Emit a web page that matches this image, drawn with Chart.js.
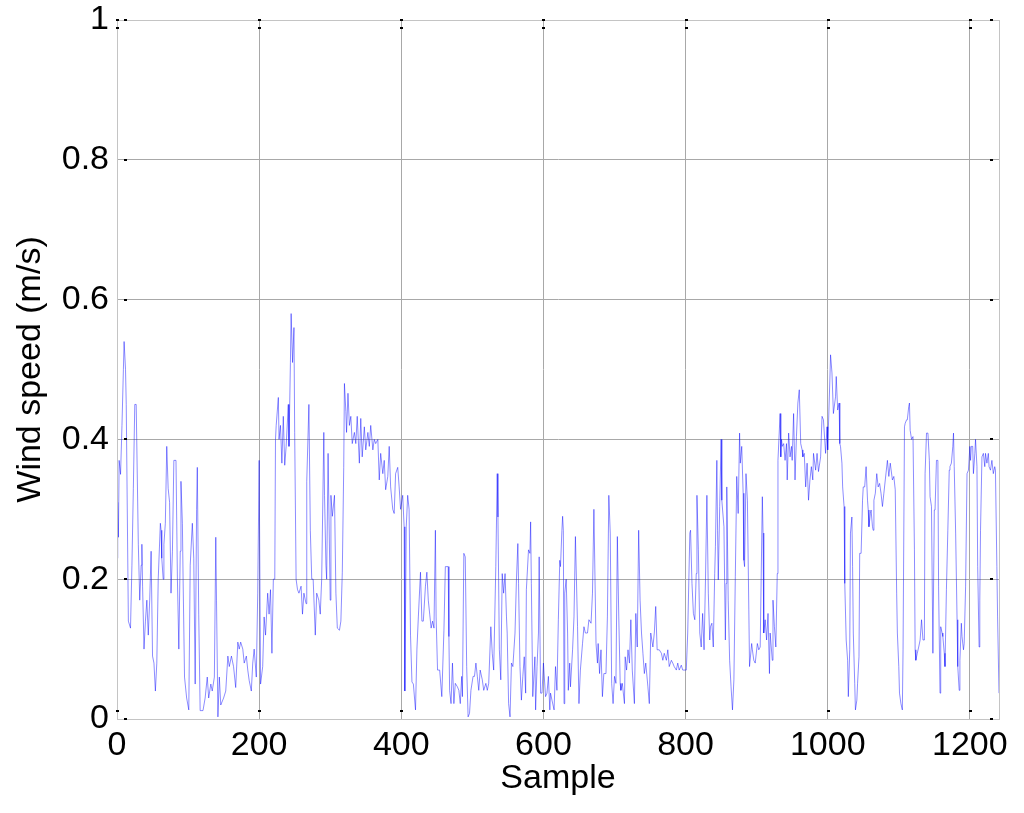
<!DOCTYPE html>
<html>
<head>
<meta charset="utf-8">
<title>Wind speed</title>
<script src="https://cdn.jsdelivr.net/npm/chart.js@4.4.1/dist/chart.umd.min.js"></script>
<style>
  html, body { margin: 0; padding: 0; background: #fff; }
  canvas { display: block; }
</style>
</head>
<body>
<canvas id="windChart" width="1024" height="813"></canvas>
<script>
// sample index of each traced vertex
const sampleIdx = [
  0, 1, 2, 3, 5, 7, 9, 10, 12, 13, 16, 19, 21, 23, 25, 27, 30, 32, 34, 35, 36, 38, 40, 42, 44, 46, 48, 50, 52, 54, 56, 58,
  61, 62, 63, 65, 66, 68, 70, 72, 74, 76, 78, 80, 83, 85, 87, 89, 90, 92, 93, 95, 98, 101, 103, 106, 108, 110, 112, 113, 115, 117,
  121, 124, 127, 129, 132, 134, 137, 139, 140, 142, 144, 146, 150, 153, 156, 158, 161, 164, 167, 170, 172, 174, 177, 179, 182, 184,
  186, 189, 191, 193, 196, 198, 200,
  202, 205, 207, 209, 212, 214, 216, 218, 220, 222, 223, 224, 227, 228, 230, 232, 234, 236, 238, 241, 242, 244, 245, 247, 249, 250,
  252, 254, 256, 259, 261, 263, 266, 267, 270, 272, 274, 276, 279, 281, 284, 286, 288, 291, 292, 294, 295, 297, 300, 301, 303, 306,
  308, 310, 313, 315, 317, 319, 320, 322, 323, 325, 327, 329, 331, 334, 336, 338, 341, 343, 345, 348, 350, 353, 355, 357, 360, 362,
  364, 367, 369, 371, 374, 376, 378, 381, 383, 385, 388, 390, 392, 395, 397, 399, 402, 404,
  405, 407, 409, 411, 413, 415, 417, 420, 422, 424, 427, 429, 431, 434, 436, 438, 440, 442, 444, 446, 448, 449, 451, 454, 457, 460,
  462, 466, 467, 468, 470, 472, 474, 476, 479, 481, 483, 485, 486, 488, 490, 492, 494, 496, 498, 501, 503, 505, 507, 509, 511, 514,
  516, 519, 521, 523, 526, 528, 530, 533, 535, 536, 538, 540, 542, 544, 546, 548, 549, 551, 553, 555, 557, 560, 562, 564, 565, 567,
  569, 571, 573, 575, 576, 579, 581, 582, 583, 585, 588, 589, 591, 593, 594, 596, 598, 600,
  603, 605, 607, 609, 610, 612, 615, 617, 619, 621, 623, 624, 626, 627, 628, 629, 630, 632, 634, 635, 637, 638, 641, 643, 645, 648,
  650, 652, 655, 657, 659, 662, 664, 667, 669, 671, 674, 676, 677, 679, 681, 683, 685, 688, 690, 692, 694, 696, 698, 700, 702, 704,
  706, 708, 709, 711, 714, 715, 717, 719, 721, 723, 725, 728, 730, 732, 734, 736, 738, 740, 742, 744, 747, 749, 751, 754, 756, 758,
  760, 763, 766, 768, 770, 773, 775, 777, 780, 782, 784, 787, 789, 791, 794, 796, 799, 801, 803, 806, 807,
  809, 811, 813, 815, 816, 818, 820, 822, 824, 826, 828, 830, 832, 834, 835, 837, 839, 841, 842, 844, 845, 846, 848, 850, 851, 854,
  856, 857, 858, 860, 862, 864, 866, 868, 870, 872, 874, 876, 877, 879, 881, 882, 883, 885, 887, 889, 890, 893, 894, 896, 898, 901,
  903, 905, 908, 909, 910, 912, 914, 916, 918, 919, 922, 923, 925, 927, 929, 930, 933, 934, 935, 936, 938, 940, 942, 943, 945, 947,
  949, 950, 952, 954, 956, 958, 960, 962, 964, 965, 967, 969, 971, 973, 975, 977, 979, 980, 983, 985, 987, 990, 992, 994, 997, 999,
  1000, 1003, 1004, 1006, 1008, 1011, 1012, 1014, 1016, 1017,
  1018, 1020, 1021, 1023, 1024, 1026, 1028, 1029, 1031, 1032, 1034, 1035, 1036, 1038, 1039, 1041, 1042, 1044, 1045, 1047, 1049, 1050,
  1052, 1054, 1056, 1057, 1058, 1060, 1061, 1063, 1064, 1065, 1067, 1069, 1071, 1073, 1075, 1077, 1079, 1081, 1084, 1086, 1088, 1091,
  1093, 1095, 1097, 1098, 1100, 1101, 1103, 1105, 1106, 1108, 1109, 1111, 1112, 1114, 1115, 1116, 1118, 1120, 1122, 1123, 1124, 1126,
  1128, 1130, 1132, 1134, 1136, 1137, 1139, 1141, 1143, 1144, 1146, 1148, 1150, 1151, 1153, 1155, 1156, 1158, 1159, 1161, 1162, 1164,
  1165, 1167, 1169, 1171, 1172, 1174, 1176, 1177, 1178, 1180, 1182, 1183, 1185, 1186, 1188, 1189, 1191, 1192, 1194, 1196, 1198, 1200,
  1201, 1202, 1204, 1205, 1207, 1208, 1210, 1211, 1213, 1214, 1215, 1217, 1219, 1221, 1222, 1224, 1226, 1227, 1229, 1231, 1233, 1235,
  1236, 1238, 1239, 1241
];

// wind speed (m/s) at each of those samples
const windSpeed = [
  0.23, 0.31, 0.26, 0.37, 0.35, 0.42, 0.50, 0.54, 0.50, 0.45, 0.14, 0.13, 0.22, 0.33, 0.45, 0.45, 0.25, 0.17, 0.22, 0.25, 0.19, 0.10, 0.14, 0.17, 0.12, 0.17, 0.24, 0.09, 0.08, 0.04, 0.08, 0.20,
  0.28, 0.27, 0.23, 0.20, 0.25, 0.28, 0.39, 0.33, 0.31, 0.18, 0.24, 0.37, 0.37, 0.20, 0.10, 0.24, 0.34, 0.28, 0.20, 0.06, 0.03, 0.013, 0.22, 0.28, 0.23, 0.05, 0.30, 0.36, 0.15, 0.012,
  0.012, 0.03, 0.06, 0.03, 0.05, 0.04, 0.06, 0.26, 0.17, 0.003, 0.06, 0.02, 0.03, 0.04, 0.09, 0.075, 0.09, 0.075, 0.045, 0.11, 0.10, 0.11, 0.10, 0.08, 0.09, 0.07,
  0.055, 0.04, 0.08, 0.10, 0.06, 0.18, 0.37,
  0.05, 0.075, 0.146, 0.12, 0.18, 0.15, 0.185, 0.094, 0.20, 0.20, 0.40, 0.42, 0.46, 0.40, 0.42, 0.366, 0.433, 0.363, 0.39, 0.45, 0.39, 0.51, 0.58, 0.51, 0.56, 0.41,
  0.20, 0.185, 0.18, 0.19, 0.15, 0.18, 0.165, 0.34, 0.45, 0.27, 0.20, 0.20, 0.12, 0.18, 0.17, 0.15, 0.20, 0.41, 0.32, 0.22, 0.20, 0.38, 0.17, 0.32, 0.29, 0.32,
  0.18, 0.13, 0.127, 0.14, 0.21, 0.36, 0.48, 0.44, 0.41, 0.466, 0.42, 0.433, 0.394, 0.41, 0.394, 0.433, 0.366, 0.43, 0.375, 0.418, 0.385, 0.41, 0.39, 0.42, 0.385, 0.40,
  0.394, 0.40, 0.342, 0.38, 0.351, 0.37, 0.328, 0.347, 0.39, 0.332, 0.30, 0.294, 0.351, 0.36, 0.332, 0.30, 0.32, 0.275,
  0.04, 0.275, 0.32, 0.30, 0.12, 0.053, 0.05, 0.013, 0.10, 0.146, 0.21, 0.14, 0.14, 0.19, 0.21, 0.17, 0.15, 0.13, 0.14, 0.13, 0.27, 0.146, 0.07, 0.07, 0.032, 0.127,
  0.218, 0.218, 0.118, 0.041, 0.022, 0.08, 0.022, 0.051, 0.046, 0.041, 0.022, 0.061, 0.032, 0.237, 0.232, 0.075, 0.003, 0.008, 0.041, 0.061, 0.061, 0.08, 0.061, 0.041, 0.07, 0.056,
  0.041, 0.051, 0.041, 0.051, 0.132, 0.094, 0.07, 0.218, 0.351, 0.289, 0.099, 0.056, 0.208, 0.18, 0.208, 0.146, 0.123, 0.022, 0.003, 0.08, 0.075, 0.123, 0.199, 0.251, 0.194, 0.075,
  0.027, 0.061, 0.089, 0.037, 0.185, 0.242, 0.237, 0.282, 0.194, 0.032, 0.089, 0.013, 0.075, 0.123, 0.232, 0.037, 0.037, 0.08,
  0.032, 0.037, 0.061, 0.013, 0.037, 0.027, 0.013, 0.075, 0.041, 0.142, 0.227, 0.218, 0.27, 0.29, 0.27, 0.022, 0.18, 0.20, 0.123, 0.041, 0.08, 0.046, 0.099, 0.146, 0.261, 0.132,
  0.022, 0.07, 0.108, 0.132, 0.123, 0.123, 0.142, 0.137, 0.18, 0.30, 0.108, 0.08, 0.108, 0.065, 0.099, 0.032, 0.065, 0.065, 0.146, 0.32, 0.266, 0.051, 0.022, 0.061, 0.051, 0.261,
  0.146, 0.051, 0.041, 0.051, 0.022, 0.089, 0.07, 0.099, 0.08, 0.142, 0.07, 0.022, 0.151, 0.103, 0.27, 0.17, 0.123, 0.094, 0.065, 0.08, 0.046, 0.022, 0.123, 0.103, 0.123, 0.161,
  0.099, 0.099, 0.094, 0.084, 0.094, 0.084, 0.099, 0.075, 0.084, 0.08, 0.075, 0.07, 0.08, 0.07, 0.077, 0.07, 0.07, 0.07, 0.123, 0.266, 0.27,
  0.194, 0.151, 0.142, 0.208, 0.32, 0.242, 0.123, 0.103, 0.151, 0.099, 0.199, 0.32, 0.18, 0.113, 0.132, 0.137, 0.103, 0.208, 0.247, 0.37, 0.27, 0.199, 0.304, 0.40, 0.313, 0.275,
  0.113, 0.194, 0.332, 0.17, 0.084, 0.046, 0.013, 0.056, 0.204, 0.347, 0.294, 0.409, 0.366, 0.39, 0.323, 0.227, 0.218, 0.351, 0.313, 0.156, 0.075, 0.108, 0.099, 0.084, 0.08, 0.108,
  0.099, 0.103, 0.318, 0.266, 0.123, 0.142, 0.113, 0.151, 0.065, 0.123, 0.084, 0.17, 0.132, 0.103, 0.208, 0.37, 0.437, 0.375, 0.40, 0.39, 0.394, 0.37, 0.394, 0.342, 0.409, 0.375,
  0.39, 0.37, 0.437, 0.342, 0.404, 0.452, 0.471, 0.394, 0.385, 0.375, 0.38, 0.332, 0.366, 0.313, 0.342, 0.361, 0.342, 0.38, 0.356, 0.38, 0.354, 0.375, 0.433, 0.428, 0.38, 0.418,
  0.385, 0.485, 0.521, 0.495, 0.437, 0.461, 0.49, 0.442, 0.452, 0.394,
  0.39, 0.366, 0.332, 0.304, 0.194, 0.113, 0.084, 0.032, 0.099, 0.266, 0.289, 0.218, 0.123, 0.051, 0.013, 0.027, 0.051, 0.089, 0.237, 0.237, 0.313, 0.332,
  0.332, 0.361, 0.313, 0.299, 0.275, 0.294, 0.299, 0.275, 0.27, 0.313, 0.323, 0.351, 0.332, 0.337, 0.323, 0.304, 0.323, 0.342, 0.37, 0.347, 0.366, 0.342,
  0.347, 0.328, 0.18, 0.123, 0.075, 0.037, 0.022, 0.013, 0.099, 0.418, 0.423, 0.428, 0.428, 0.447, 0.452, 0.413, 0.40, 0.404, 0.242, 0.099, 0.084, 0.094,
  0.103, 0.113, 0.142, 0.113, 0.113, 0.351, 0.409, 0.409, 0.37, 0.318, 0.304, 0.094, 0.299, 0.299, 0.37, 0.37, 0.189, 0.037, 0.132, 0.123, 0.118, 0.094,
  0.075, 0.185, 0.27, 0.356, 0.361, 0.366, 0.39, 0.409, 0.361, 0.266, 0.142, 0.075, 0.041, 0.084, 0.137, 0.118, 0.099, 0.108, 0.189, 0.351, 0.356, 0.39,
  0.37, 0.39, 0.39, 0.351, 0.38, 0.40, 0.361, 0.218, 0.103, 0.17, 0.27, 0.375, 0.38, 0.361, 0.38, 0.366, 0.38, 0.361, 0.356, 0.37, 0.351, 0.361,
  0.356, 0.218, 0.146, 0.037
];

const xTicks = [0, 200, 400, 600, 800, 1000, 1200];
const yTicks = [0, 0.2, 0.4, 0.6, 0.8, 1];
const xMax = 1241;

const points = sampleIdx.map((s, i) => ({ x: s, y: windSpeed[i] }));

/* ===== MATLAB style box and tick dots ===== */
const boxPlugin = {
  id: "matlabBox",
  afterDraw(chart) {
    const { ctx, chartArea: a, scales } = chart;
    ctx.save();
    ctx.strokeStyle = "#c4c4c4";
    ctx.lineWidth = 1;
    ctx.strokeRect(Math.round(a.left) + 0.5, Math.round(a.top) + 0.5,
      Math.round(a.right - a.left), Math.round(a.bottom - a.top));
    ctx.fillStyle = "#000";
    xTicks.forEach(v => {
      const px = Math.round(scales.x.getPixelForValue(v));
      ctx.fillRect(px - 1, a.bottom - 9, 3, 2);
      ctx.fillRect(px - 1, a.top - 1, 3, 2);
      ctx.fillRect(px - 1, a.top + 7, 3, 2);
    });
    yTicks.forEach(v => {
      const py = Math.round(scales.y.getPixelForValue(v));
      ctx.fillRect(a.left + 7, py - 1, 3, 2);
      ctx.fillRect(a.right - 9, py - 1, 3, 2);
    });
    ctx.restore();
  }
};

const font = { family: "'Liberation Sans', Arial, sans-serif", size: 34 };
const plainLabel = v => String(Math.round(v * 10) / 10);

new Chart(document.getElementById("windChart"), {
  type: "line",
  data: {
    datasets: [{
      data: points,
      borderColor: "rgba(0, 0, 255, 0.45)",
      borderWidth: 1,
      pointRadius: 0,
      tension: 0,
      fill: false
    }]
  },
  options: {
    responsive: false,
    animation: false,
    parsing: false,
    layout: { padding: { top: 20, right: 25, left: 0, bottom: 0 } },
    plugins: {
      legend: { display: false },
      tooltip: { enabled: false }
    },
    scales: {
      x: {
        type: "linear",
        min: 0,
        max: xMax,
        afterFit: s => { s.height = 94; s.paddingLeft = 0; s.paddingRight = 0; },
        afterBuildTicks: s => { s.ticks = xTicks.map(v => ({ value: v })); },
        ticks: { font, color: "#000", padding: 6, maxRotation: 0, autoSkip: false, callback: plainLabel },
        grid: { color: "#a8a8a8", drawTicks: false },
        border: { color: "#c4c4c4" },
        title: { display: true, text: "Sample", font, color: "#000", padding: { top: 0, bottom: 14 } }
      },
      y: {
        min: 0,
        max: 1,
        afterFit: s => { s.width = 117; s.paddingTop = 0; s.paddingBottom = 0; },
        afterBuildTicks: s => { s.ticks = yTicks.map(v => ({ value: v })); },
        ticks: { font, color: "#000", padding: 8, callback: plainLabel },
        grid: { color: "#a8a8a8", drawTicks: false },
        border: { color: "#c4c4c4" },
        title: { display: true, text: "Wind speed (m/s)", font, color: "#000", padding: { top: 10, bottom: 0 } }
      }
    }
  },
  plugins: [boxPlugin]
});
</script>
</body>
</html>
